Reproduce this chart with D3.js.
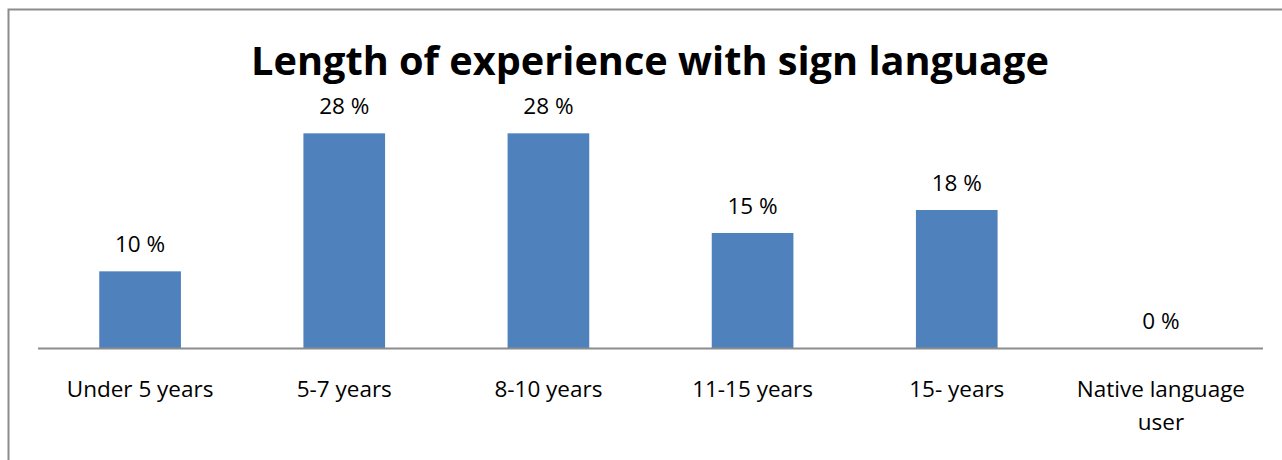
<!DOCTYPE html>
<html>
<head>
<meta charset="utf-8">
<script src="https://cdn.jsdelivr.net/npm/d3@7"></script>
<style>
  html, body { margin: 0; padding: 0; background: #fff; }
  svg { display: block; }
</style>
</head>
<body>
<script>
// Survey: how long respondents have used sign language (share of answers, %)
const categories = ["Under 5 years", "5-7 years", "8-10 years", "11-15 years", "15- years", "Native language user"];
const values = [10, 28, 28, 15, 18, 0];
const valueLabels = ["10 %", "28 %", "28 %", "15 %", "18 %", "0 %"];
const title = "Length of experience with sign language";

const W = 1282, H = 460;
const font = "'Open Sans', sans-serif";
const labelSize = 22.5;

const svg = d3.select("body").append("svg")
  .attr("width", W).attr("height", H);

// chart frame (top and left edges visible)
svg.append("path")
  .attr("d", `M8.5,${H} V9.5 H${W}`)
  .attr("fill", "none")
  .attr("stroke", "#8c8c8c")
  .attr("stroke-width", 2);

const plot = { left: 38, right: 1263, top: 118, bottom: 348 };

const x = d3.scaleBand()
  .domain(categories)
  .range([plot.left, plot.right])
  .paddingInner(0.6)
  .paddingOuter(0.3);

const y = d3.scaleLinear()
  .domain([0, 30])
  .range([plot.bottom, plot.top]);

// title
svg.append("text")
  .attr("x", 650).attr("y", 75)
  .attr("text-anchor", "middle")
  .attr("font-family", font)
  .attr("font-weight", "bold")
  .attr("font-size", 39.7)
  .attr("fill", "#000")
  .text(title);

// bars
svg.append("g").selectAll("rect")
  .data(values)
  .join("rect")
  .attr("x", (d, i) => x(categories[i]))
  .attr("y", d => y(d))
  .attr("width", x.bandwidth())
  .attr("height", d => y(0) - y(d))
  .attr("fill", "#4f81bd");

// value labels
svg.append("g").selectAll("text")
  .data(values)
  .join("text")
  .attr("x", (d, i) => x(categories[i]) + x.bandwidth() / 2)
  .attr("y", d => y(d) - 19)
  .attr("text-anchor", "middle")
  .attr("font-family", font)
  .attr("font-size", labelSize)
  .attr("fill", "#000")
  .text((d, i) => valueLabels[i]);

// category axis
const axis = svg.append("g")
  .attr("transform", `translate(0,${plot.bottom})`)
  .call(d3.axisBottom(x).tickSize(0).tickPadding(0).tickSizeOuter(0));
axis.select(".domain")
  .attr("stroke", "#8c8c8c")
  .attr("stroke-width", 2)
  .attr("d", `M${plot.left},0.5H${plot.right}`);
axis.selectAll(".tick text").remove();

// wrapped category labels
const labelG = svg.append("g");
categories.forEach(c => {
  const words = c === "Native language user" ? ["Native language", "user"] : [c];
  const t = labelG.append("text")
    .attr("text-anchor", "middle")
    .attr("font-family", font)
    .attr("font-size", labelSize)
    .attr("fill", "#000");
  words.forEach((w, k) => {
    t.append("tspan")
      .attr("x", x(c) + x.bandwidth() / 2)
      .attr("y", 397 + k * 33)
      .text(w);
  });
});
</script>
</body>
</html>
